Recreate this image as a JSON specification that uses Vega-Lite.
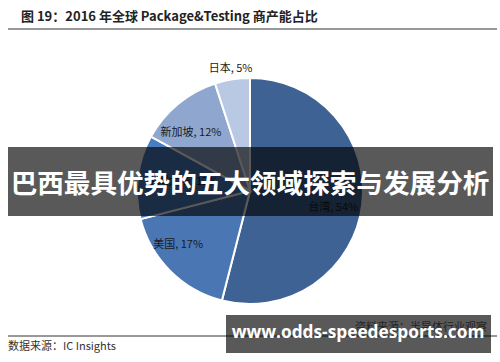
{
  "$schema": "https://vega.github.io/schema/vega-lite/v6.json",
  "width": 500,
  "height": 342,
  "autosize": {"type": "none"},
  "padding": {"top": 20, "left": 0, "right": 0, "bottom": 0},
  "background": "white",
  "config": {"view": {"stroke": null}},
  "data": {"values": [
    {"region": "台湾", "share": 54, "rank": 1, "label": "台湾, 54%"},
    {"region": "美国", "share": 17, "rank": 2, "label": "美国, 17%"},
    {"region": "中国大陆", "share": 12, "rank": 3, "label": "中国大陆, 12%"},
    {"region": "新加坡", "share": 12, "rank": 4, "label": "新加坡, 12%"},
    {"region": "日本", "share": 5, "rank": 5, "label": "日本, 5%"}
  ]},
  "layer": [
    {
      "mark": {"type": "arc", "outerRadius": 113, "stroke": "white", "strokeWidth": 2},
      "encoding": {
        "theta": {"field": "share", "type": "quantitative", "stack": true},
        "order": {"field": "rank", "type": "quantitative"},
        "color": {"field": "region", "type": "nominal", "legend": null,
          "scale": {"domain": ["台湾", "美国", "中国大陆", "新加坡", "日本"],
                    "range": ["#3d6293", "#4a77b3", "#4a7cc2", "#8fa7cf", "#bac9e3"]}}
      }
    },
    {
      "mark": {"type": "text", "radius": 85, "thetaOffset": 0.077, "font": "Noto Sans CJK SC", "fontSize": 11, "color": "#1a1a1a"},
      "encoding": {
        "theta": {"field": "share", "type": "quantitative", "stack": true},
        "order": {"field": "rank", "type": "quantitative"},
        "text": {"condition": {"test": "datum.region === '台湾'", "field": "label"}, "value": ""}
      }
    },
    {
      "mark": {"type": "text", "radius": 90, "thetaOffset": 0.14, "font": "Noto Sans CJK SC", "fontSize": 11, "color": "#1a1a1a"},
      "encoding": {
        "theta": {"field": "share", "type": "quantitative", "stack": true},
        "order": {"field": "rank", "type": "quantitative"},
        "text": {"condition": {"test": "datum.region === '美国'", "field": "label"}, "value": ""}
      }
    },
    {
      "mark": {"type": "text", "radius": 83, "thetaOffset": -0.1, "font": "Noto Sans CJK SC", "fontSize": 11, "color": "#1a1a1a"},
      "encoding": {
        "theta": {"field": "share", "type": "quantitative", "stack": true},
        "order": {"field": "rank", "type": "quantitative"},
        "text": {"condition": {"test": "datum.region === '新加坡'", "field": "label"}, "value": ""}
      }
    },
    {
      "mark": {"type": "text", "radius": 68, "font": "Noto Sans CJK SC", "fontSize": 11, "color": "#1a1a1a"},
      "encoding": {
        "theta": {"field": "share", "type": "quantitative", "stack": true},
        "order": {"field": "rank", "type": "quantitative"},
        "text": {"condition": {"test": "datum.region === '中国大陆'", "field": "label"}, "value": ""}
      }
    },
    {
      "mark": {"type": "text", "radius": 124, "font": "Noto Sans CJK SC", "fontSize": 11, "color": "#1a1a1a"},
      "encoding": {
        "theta": {"field": "share", "type": "quantitative", "stack": true},
        "order": {"field": "rank", "type": "quantitative"},
        "text": {"condition": {"test": "datum.region === '日本'", "field": "label"}, "value": ""}
      }
    },
    {
      "data": {"values": [{}]},
      "mark": {"type": "text", "align": "left", "baseline": "middle", "font": "Noto Sans CJK SC", "fontWeight": "bold", "fontSize": 13, "color": "#222"},
      "encoding": {
        "x": {"datum": 21, "type": "quantitative", "scale": {"domain": [0, 500], "range": [0, 500], "nice": false, "zero": false}, "axis": null},
        "y": {"datum": 17, "type": "quantitative", "scale": {"domain": [20, 362], "range": [0, 342], "nice": false, "zero": false}, "axis": null},
        "text": {"value": "图 19：2016 年全球 Package&Testing 商产能占比"}
      }
    },
    {
      "data": {"values": [{}]},
      "mark": {"type": "rule", "color": "#333", "strokeWidth": 1},
      "encoding": {
        "x": {"datum": 8, "type": "quantitative"},
        "x2": {"datum": 497},
        "y": {"datum": 29, "type": "quantitative"}
      }
    },
    {
      "data": {"values": [{}]},
      "mark": {"type": "rule", "color": "#333", "strokeWidth": 1},
      "encoding": {
        "x": {"datum": 8, "type": "quantitative"},
        "x2": {"datum": 497},
        "y": {"datum": 336, "type": "quantitative"}
      }
    },
    {
      "data": {"values": [{}]},
      "mark": {"type": "text", "align": "left", "baseline": "middle", "font": "Noto Sans CJK SC", "fontSize": 11, "color": "#333"},
      "encoding": {
        "x": {"datum": 8, "type": "quantitative"},
        "y": {"datum": 347, "type": "quantitative"},
        "text": {"value": "数据来源：IC Insights"}
      }
    },
    {
      "data": {"values": [{}]},
      "mark": {"type": "text", "align": "right", "baseline": "middle", "font": "Noto Sans CJK SC", "fontSize": 11, "color": "#666"},
      "encoding": {
        "x": {"datum": 487, "type": "quantitative"},
        "y": {"datum": 328, "type": "quantitative"},
        "text": {"value": "资料来源：半导体行业观察"}
      }
    },
    {
      "data": {"values": [{}]},
      "mark": {"type": "rect", "color": "black", "opacity": 0.65},
      "encoding": {
        "x": {"datum": 8, "type": "quantitative"},
        "x2": {"datum": 493},
        "y": {"datum": 147, "type": "quantitative"},
        "y2": {"datum": 216}
      }
    },
    {
      "data": {"values": [{}]},
      "mark": {"type": "text", "align": "center", "baseline": "middle", "font": "Noto Sans CJK SC", "fontWeight": "bold", "fontSize": 26.6, "color": "white"},
      "encoding": {
        "x": {"datum": 250, "type": "quantitative"},
        "y": {"datum": 185, "type": "quantitative"},
        "text": {"value": "巴西最具优势的五大领域探索与发展分析"}
      }
    },
    {
      "data": {"values": [{}]},
      "mark": {"type": "rect", "color": "black", "opacity": 0.65},
      "encoding": {
        "x": {"datum": 226, "type": "quantitative"},
        "x2": {"datum": 491},
        "y": {"datum": 315, "type": "quantitative"},
        "y2": {"datum": 353}
      }
    },
    {
      "data": {"values": [{}]},
      "mark": {"type": "text", "align": "center", "baseline": "middle", "font": "Open Sans", "fontWeight": "bold", "fontSize": 17.3, "color": "white"},
      "encoding": {
        "x": {"datum": 358, "type": "quantitative"},
        "y": {"datum": 333, "type": "quantitative"},
        "text": {"value": "www.odds-speedesports.com"}
      }
    }
  ]
}
